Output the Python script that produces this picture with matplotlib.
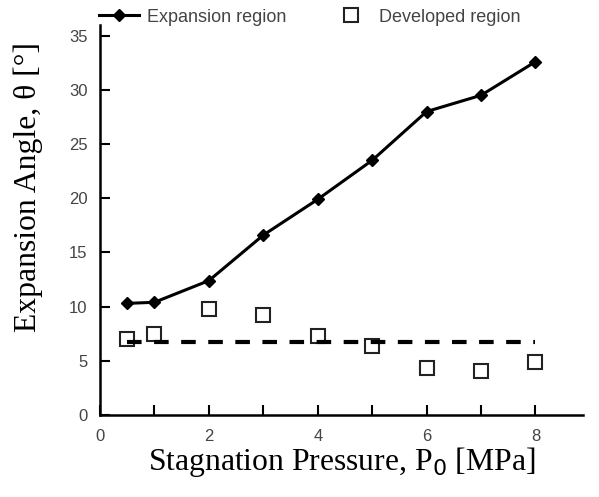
import matplotlib
matplotlib.use("Agg")
import matplotlib.pyplot as plt
from matplotlib.ticker import MultipleLocator

pressure = [0.5, 1, 2, 3, 4, 5, 6, 7, 8]
expansion = [10.3, 10.4, 12.4, 16.6, 19.9, 23.5, 28.0, 29.5, 32.6]
developed = [7.0, 7.5, 9.8, 9.2, 7.3, 6.4, 4.3, 4.1, 4.9]
mean_x = [0.5, 8]
mean_y = [6.7, 6.7]

fig = plt.figure(figsize=(5.99, 4.97), dpi=100)
ax = fig.add_axes([0.167, 0.165, 0.806, 0.785])

ax.plot(pressure, expansion, color="black", lw=2.2, marker="D", ms=6.5,
        label="Expansion region")
ax.plot(pressure, developed, ls="none", marker="s", ms=10, mfc="white",
        mec="#222222", mew=1.5, label="Developed region")
ax.plot(mean_x, mean_y, color="black", lw=3, ls=(0, (3.5, 3)))

ax.set_xlim(0, 8.87)
ax.set_ylim(0, 36)
ax.xaxis.set_major_locator(MultipleLocator(2))
ax.xaxis.set_minor_locator(MultipleLocator(1))
ax.yaxis.set_major_locator(MultipleLocator(5))
for s in ["top", "right"]:
    ax.spines[s].set_visible(False)
for s in ["left", "bottom"]:
    ax.spines[s].set_linewidth(1.8)
ax.tick_params(axis="both", which="both", direction="in", width=1.5,
               colors="black", labelcolor="#444444", labelsize=12)
for lab in ax.get_xticklabels() + ax.get_yticklabels():
    lab.set_family("Liberation Sans")
ax.tick_params(axis="both", which="major", length=7)
ax.tick_params(axis="both", which="minor", length=7)
ax.tick_params(axis="x", pad=10)
ax.tick_params(axis="y", pad=9)

ax.set_xlabel("Stagnation Pressure, P$_0$ [MPa]", family="Liberation Serif",
              fontsize=22.8, labelpad=1)
ax.set_ylabel("Expansion Angle, θ [°]", family="Liberation Serif",
              fontsize=22.8)
ax.yaxis.set_label_coords(-0.118, 0.585)

fig.legend(loc="upper left", bbox_to_anchor=(0.138, 1.015), ncol=2,
           frameon=False, prop={"family": "Liberation Sans", "size": 13},
           labelcolor="#444444",
           handlelength=2.2, columnspacing=2.5, handletextpad=0.45)

fig.savefig("out.png", dpi=100)
